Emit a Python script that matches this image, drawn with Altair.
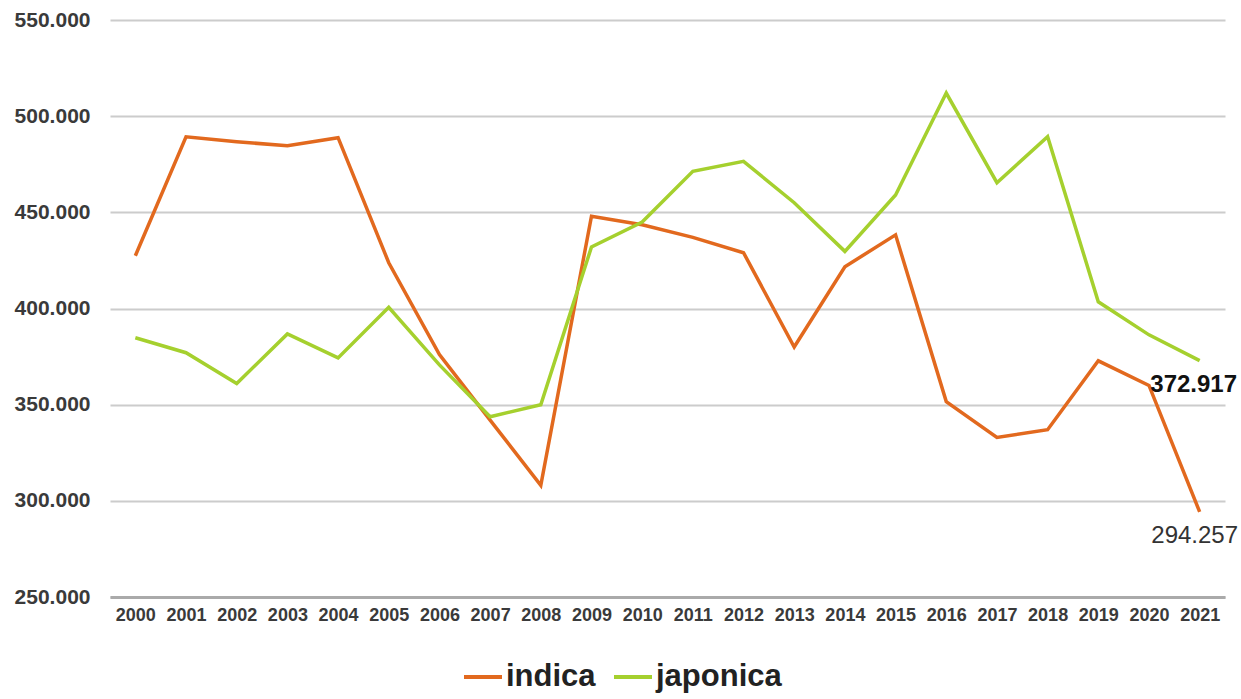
import altair as alt
import pandas as pd

years = [str(y) for y in range(2000, 2022)]
indica = [427.4, 489.3, 486.7, 484.6, 488.8, 423.8, 376.0, 342.0, 308.0, 448.0,
          443.5, 437.0, 429.0, 380.0, 421.7, 438.3, 351.6, 333.0, 337.0, 372.8,
          360.0, 294.257]
japonica = [384.8, 377.0, 361.0, 386.8, 374.3, 400.6, 370.7, 343.7, 350.0, 432.0,
            445.0, 471.3, 476.5, 455.0, 429.7, 459.0, 512.0, 465.4, 489.3, 403.5,
            386.3, 372.917]
series = ["indica", "japonica"]
colors = ["#E2691E", "#A5D02E"]
y_ticks = [250, 300, 350, 400, 450, 500, 550]

rows = []
for i, yr in enumerate(years):
    rows.append({"year": yr, "variety": "indica", "value": indica[i]})
    rows.append({"year": yr, "variety": "japonica", "value": japonica[i]})
df = pd.DataFrame(rows)

FONT = "Liberation Sans"

base = alt.Chart(df).encode(
    x=alt.X("year:O", title=None,
            axis=alt.Axis(labelAngle=0, labelFont=FONT, labelFontSize=18,
                          labelFontWeight="bold", labelColor="#3a3a3a",
                          ticks=False, domain=True, domainColor="#aaaaaa",
                          domainWidth=3, labelPadding=9, grid=False)),
    y=alt.Y("value:Q", title=None,
            scale=alt.Scale(domain=[250, 550], nice=False, zero=False),
            axis=alt.Axis(values=y_ticks, format=".3f", labelFont=FONT,
                          labelFontSize=21, labelFontWeight="bold",
                          labelColor="#3a3a3a", ticks=False, domain=False,
                          gridColor="#cccccc", gridWidth=2, labelPadding=20)),
    color=alt.Color("variety:N", title=None,
                    scale=alt.Scale(domain=series, range=colors),
                    legend=alt.Legend(orient="none", legendX=352, legendY=636,
                                      direction="horizontal", symbolType="stroke",
                                      symbolSize=1444, symbolStrokeWidth=4,
                                      labelFont=FONT, labelFontSize=31,
                                      labelFontWeight="bold", labelColor="#222222",
                                      columnPadding=10, labelOffset=2, padding=0)),
)

lines = base.mark_line(strokeWidth=3.5)

last = df[df["year"] == "2021"]
lab_j = alt.Chart(last[last["variety"] == "japonica"]).mark_text(
    font=FONT, fontSize=24, fontWeight="bold", color="#111111",
    dx=-6, dy=24, align="center", baseline="middle"
).encode(x="year:O", y="value:Q", text=alt.Text("value:Q", format=".3f"))

lab_i = alt.Chart(last[last["variety"] == "indica"]).mark_text(
    font=FONT, fontSize=24, color="#333333",
    dx=-5, dy=24, align="center", baseline="middle"
).encode(x="year:O", y="value:Q", text=alt.Text("value:Q", format=".3f"))

chart = alt.layer(lines, lab_j, lab_i).properties(
    width=1115, height=577,
    autosize=alt.AutoSizeParams(type="none"),
    padding={"left": 110, "top": 20, "right": 16, "bottom": 102},
    background="white",
).configure_view(stroke=None)

chart.save("out.html", embed_options={"renderer": "svg", "actions": False})
